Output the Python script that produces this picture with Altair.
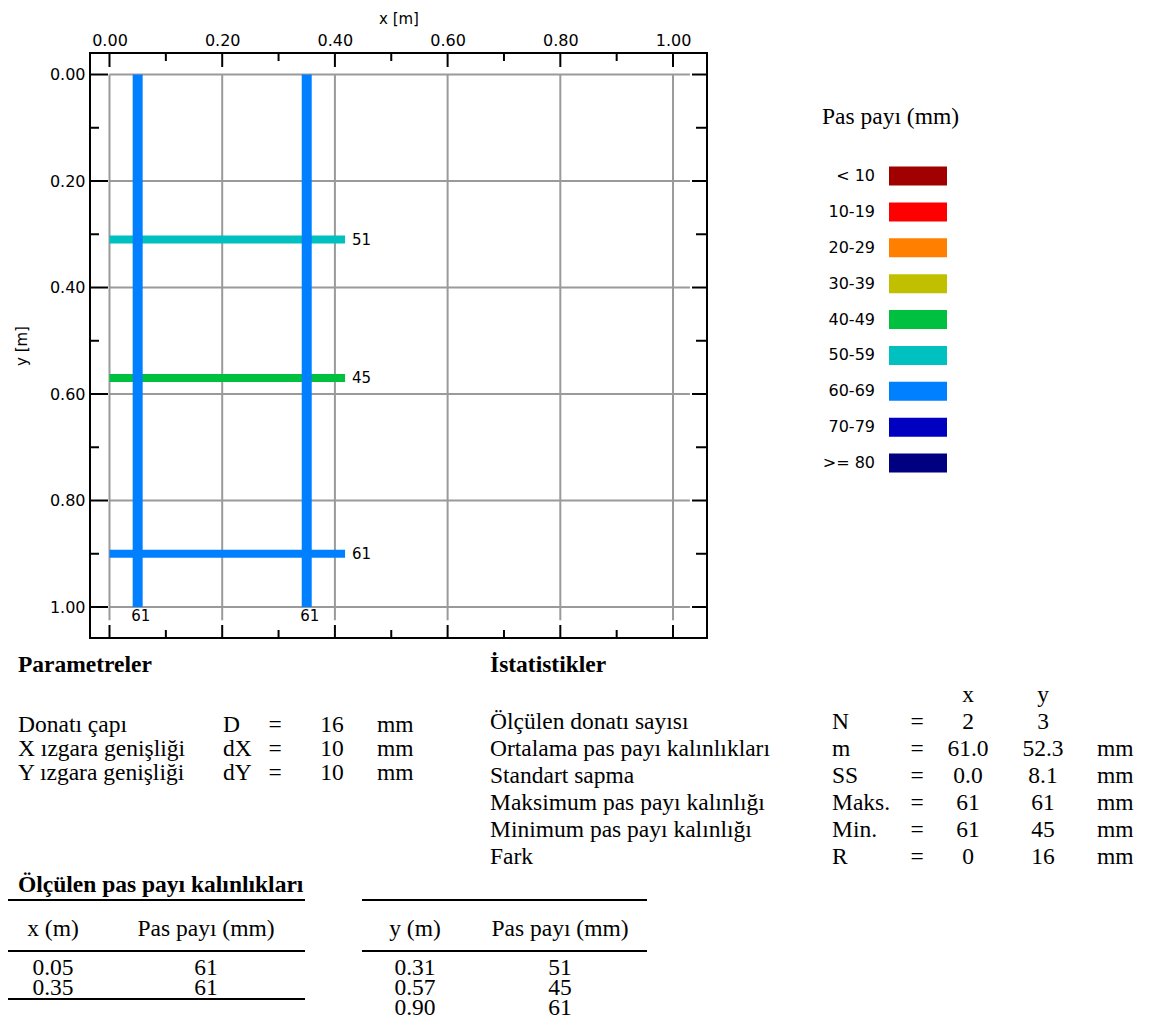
import altair as alt
import pandas as pd

# ---------------- data ----------------
x_bar_pos = [0.05, 0.35]            # bars measured along x (m)
x_bar_cover = [61, 61]              # cover (mm)
y_bar_pos = [0.31, 0.57, 0.90]      # bars measured along y (m)
y_bar_cover = [51, 45, 61]
x_bar_extent = [0.0, 1.0]           # scanned y-range of the x bars (m)
y_bar_extent = [0.0, 0.418]         # scanned x-range of the y bars (m)

cover_classes = ["< 10", "10-19", "20-29", "30-39", "40-49",
                 "50-59", "60-69", "70-79", ">= 80"]
cover_colors = ["#A00000", "#FF0000", "#FF8000", "#C0C000", "#00C040",
                "#00C0C0", "#0080FF", "#0000C0", "#000080"]

axis_major = [0.0, 0.2, 0.4, 0.6, 0.8, 1.0]
axis_minor = [0.1, 0.3, 0.5, 0.7, 0.9]

legend_title = "Pas payı (mm)"

param_title = "Parametreler"
param_labels = ["Donatı çapı", "X ızgara genişliği", "Y ızgara genişliği"]
param_symbols = ["D", "dX", "dY"]
param_values = ["16", "10", "10"]
param_units = ["mm", "mm", "mm"]

stat_title = "İstatistikler"
stat_head = ["x", "y"]
stat_labels = ["Ölçülen donatı sayısı", "Ortalama pas payı kalınlıkları",
               "Standart sapma", "Maksimum pas payı kalınlığı",
               "Minimum pas payı kalınlığı", "Fark"]
stat_symbols = ["N", "m", "SS", "Maks.", "Min.", "R"]
stat_x = ["2", "61.0", "0.0", "61", "61", "0"]
stat_y = ["3", "52.3", "8.1", "61", "45", "16"]
stat_units = ["", "mm", "mm", "mm", "mm", "mm"]

table_title = "Ölçülen pas payı kalınlıkları"
table_head_x = ["x (m)", "Pas payı (mm)"]
table_head_y = ["y (m)", "Pas payı (mm)"]

# ---------------- layout helpers ----------------
SERIF = "Liberation Serif"
SANS = "DejaVu Sans"
W, H = 617, 585
OX, OY = 90, 53          # page position of the plot area


def px(v):
    return v - OX


def py(v):
    return v - OY


def lin(domain, rng):
    return alt.Scale(type="linear", domain=domain, range=rng, nice=False, zero=False)


def cover_class(v):
    return cover_classes[min(max(int(v) // 10, 0), 8)]


color_enc = alt.Color("cls:N", scale=alt.Scale(domain=cover_classes, range=cover_colors), legend=None)

# ---------------- main plot ----------------
xs = alt.Scale(domain=[-0.0346, 1.0603], nice=False, zero=False)
ys = alt.Scale(domain=[-0.0404, 1.0582], nice=False, zero=False, reverse=True)
ax = alt.Axis(orient="top", values=axis_major, format=".2f", title="x [m]", grid=False,
              ticks=False, tickSize=0, domain=False, labelPadding=5, titlePadding=6,
              titleFontSize=15, labelFlush=False)
ay = alt.Axis(orient="left", values=axis_major, format=".2f", title="y [m]", grid=False,
              ticks=False, tickSize=0, domain=False, labelPadding=5, titlePadding=20,
              titleFontSize=15, labelFlush=False)

GRID_V_END = 1.025
GRID_H_END = 1.03
GRID = "#9a9a9a"

df_vgrid = pd.DataFrame({"v": axis_major, "a": 0.0, "b": GRID_V_END})
df_hgrid = pd.DataFrame({"v": axis_major, "a": 0.0, "b": GRID_H_END})
df_major = pd.DataFrame({"v": axis_major})
df_minor = pd.DataFrame({"v": axis_minor})

vgrid = alt.Chart(df_vgrid).mark_rule(color=GRID, strokeWidth=2).encode(
    x=alt.X("v:Q", scale=xs, axis=ax), y=alt.Y("a:Q", scale=ys, axis=ay), y2="b:Q")
hgrid = alt.Chart(df_hgrid).mark_rule(color=GRID, strokeWidth=2).encode(
    y=alt.Y("v:Q", scale=ys, axis=ay), x=alt.X("a:Q", scale=xs, axis=ax), x2="b:Q")


def xtick(df, y0, y1):
    return alt.Chart(df).mark_rule(color="black", strokeWidth=2).encode(
        x=alt.X("v:Q", scale=xs, axis=ax), y=alt.value(y0), y2=alt.value(y1))


def ytick(df, x0, x1):
    return alt.Chart(df).mark_rule(color="black", strokeWidth=2).encode(
        y=alt.Y("v:Q", scale=ys, axis=ay), x=alt.value(x0), x2=alt.value(x1))


ticks = [
    xtick(df_major, 0, 14), xtick(df_minor, 0, 8),
    xtick(df_major, H, H - 13), xtick(df_minor, H, H - 8),
    ytick(df_major, 0, 18), ytick(df_minor, 0, 9),
    ytick(df_major, W, W - 15), ytick(df_minor, W, W - 11),
]

df_xbars = pd.DataFrame({
    "pos": x_bar_pos, "cover": x_bar_cover,
    "cls": [cover_class(v) for v in x_bar_cover],
    "a": x_bar_extent[0], "b": x_bar_extent[1]})
df_ybars = pd.DataFrame({
    "pos": y_bar_pos, "cover": y_bar_cover,
    "cls": [cover_class(v) for v in y_bar_cover],
    "a": y_bar_extent[0], "b": y_bar_extent[1]})

ybars = alt.Chart(df_ybars).mark_rule(strokeWidth=8, strokeCap="butt").encode(
    y=alt.Y("pos:Q", scale=ys, axis=ay), x=alt.X("a:Q", scale=xs, axis=ax), x2="b:Q",
    color=color_enc)
xbars = alt.Chart(df_xbars).mark_rule(strokeWidth=10, strokeCap="butt").encode(
    x=alt.X("pos:Q", scale=xs, axis=ax), y=alt.Y("a:Q", scale=ys, axis=ay), y2="b:Q",
    color=color_enc)
ylabels = alt.Chart(df_ybars).mark_text(
    align="left", baseline="middle", dx=7, font=SANS, fontSize=15, color="black").encode(
    y=alt.Y("pos:Q", scale=ys, axis=ay), x=alt.X("b:Q", scale=xs, axis=ax),
    text="cover:Q")
xlabels = alt.Chart(df_xbars).mark_text(
    align="center", baseline="top", dx=3, dy=2, font=SANS, fontSize=15, color="black").encode(
    x=alt.X("pos:Q", scale=xs, axis=ax), y=alt.Y("b:Q", scale=ys, axis=ay),
    text="cover:Q")

main = alt.layer(vgrid, hgrid, ybars, xbars, ylabels, xlabels, *ticks)


# ---------------- text blocks ----------------
def text_layer(rows, xsc, ysc, align="left", font=SERIF, size=23.5, weight="normal"):
    df = pd.DataFrame(rows, columns=["txt", "col", "row"])
    return alt.Chart(df).mark_text(
        align=align, baseline="middle", font=font, fontSize=size,
        fontWeight=weight, color="black").encode(
        x=alt.X("col:Q", scale=xsc, axis=None),
        y=alt.Y("row:Q", scale=ysc, axis=None),
        text=alt.Text("txt:N"))


# legend
LX = lin([-2, -1, 0, 1], [px(822), px(875), px(889), px(947)])
LY = lin([-1, 0, 8], [py(117), py(176), py(463)])
df_leg = pd.DataFrame({"cls": cover_classes, "row": list(range(len(cover_classes))),
                       "c0": 0, "c1": 1})
leg_sw = alt.Chart(df_leg).mark_rule(strokeWidth=19, strokeCap="butt").encode(
    x=alt.X("c0:Q", scale=LX, axis=None), x2="c1:Q",
    y=alt.Y("row:Q", scale=LY, axis=None), color=color_enc)
leg_lab = text_layer([(c, -1, i) for i, c in enumerate(cover_classes)], LX, LY,
                     align="right", font=SANS, size=16)
leg_title = text_layer([(legend_title, -2, -1)], LX, LY, size=23.5)
legend_block = alt.layer(leg_sw, leg_lab, leg_title)

# parameters
PX_ = lin([0, 1, 2, 3, 4], [px(18), px(223), px(275), px(332), px(377)])
PY_ = lin([-1, 0, 2], [py(665), py(725), py(773)])
p_left = ([(t, 0, i) for i, t in enumerate(param_labels)]
          + [(t, 1, i) for i, t in enumerate(param_symbols)]
          + [(t, 4, i) for i, t in enumerate(param_units)])
p_center = ([("=", 2, i) for i in range(len(param_labels))]
            + [(t, 3, i) for i, t in enumerate(param_values)])
params_block = alt.layer(
    text_layer([(param_title, 0, -1)], PX_, PY_, weight="bold"),
    text_layer(p_left, PX_, PY_),
    text_layer(p_center, PX_, PY_, align="center"))

# statistics
SX = lin([0, 1, 2, 3, 4, 5], [px(490), px(832), px(917), px(968), px(1043), px(1097)])
SY = lin([-2, -1, 0, 5], [py(665), py(695), py(722), py(857)])
s_left = ([(t, 0, i) for i, t in enumerate(stat_labels)]
          + [(t, 1, i) for i, t in enumerate(stat_symbols)]
          + [(t, 5, i) for i, t in enumerate(stat_units) if t])
s_center = ([("=", 2, i) for i in range(len(stat_labels))]
            + [(t, 3, i) for i, t in enumerate(stat_x)]
            + [(t, 4, i) for i, t in enumerate(stat_y)]
            + [(stat_head[0], 3, -1), (stat_head[1], 4, -1)])
stats_block = alt.layer(
    text_layer([(stat_title, 0, -2)], SX, SY, weight="bold"),
    text_layer(s_left, SX, SY),
    text_layer(s_center, SX, SY, align="center"))

# measured tables
TX = lin([0, 1, 2, 3, 4, 5, 6, 7, 8],
         [px(3), px(18), px(53), px(206), px(305), px(362), px(415), px(560), px(647)])
TY = lin([-1, -0.5, 0, 0.5, 1, 2, 2.5, 3],
         [py(885), py(900), py(929), py(951), py(968), py(988), py(999), py(1008)])
df_lines = pd.DataFrame({
    "c0": [0, 0, 0, 5, 5], "c1": [4, 4, 4, 8, 8],
    "row": [-0.5, 0.5, 0.5 + len(x_bar_pos), -0.5, 0.5]})
t_lines = alt.Chart(df_lines).mark_rule(color="black", strokeWidth=2).encode(
    x=alt.X("c0:Q", scale=TX, axis=None), x2="c1:Q",
    y=alt.Y("row:Q", scale=TY, axis=None))
t_center = ([(table_head_x[0], 2, 0), (table_head_x[1], 3, 0),
             (table_head_y[0], 6, 0), (table_head_y[1], 7, 0)]
            + [(f"{v:.2f}", 2, i + 1) for i, v in enumerate(x_bar_pos)]
            + [(str(v), 3, i + 1) for i, v in enumerate(x_bar_cover)]
            + [(f"{v:.2f}", 6, i + 1) for i, v in enumerate(y_bar_pos)]
            + [(str(v), 7, i + 1) for i, v in enumerate(y_bar_cover)])
table_block = alt.layer(
    t_lines,
    text_layer([(table_title, 1, -1)], TX, TY, weight="bold"),
    text_layer(t_center, TX, TY, align="center"))

chart = alt.layer(
    main, legend_block, params_block, stats_block, table_block
).resolve_scale(
    x="independent", y="independent"
).properties(
    width=W, height=H,
    padding={"left": OX - 8, "top": OY - 8, "right": 1135 - (OX - 8) - W,
             "bottom": 1020 - (OY - 8) - H},
    autosize=alt.AutoSizeParams(type="none"),
    background="white",
).configure_view(
    stroke="black", strokeWidth=2
).configure_axis(
    labelFont=SANS, labelFontSize=16, labelColor="black",
    titleFont=SANS, titleFontSize=15, titleFontWeight="normal", titleColor="black"
)

chart.save("out.html", embed_options={"renderer": "svg", "actions": False})
